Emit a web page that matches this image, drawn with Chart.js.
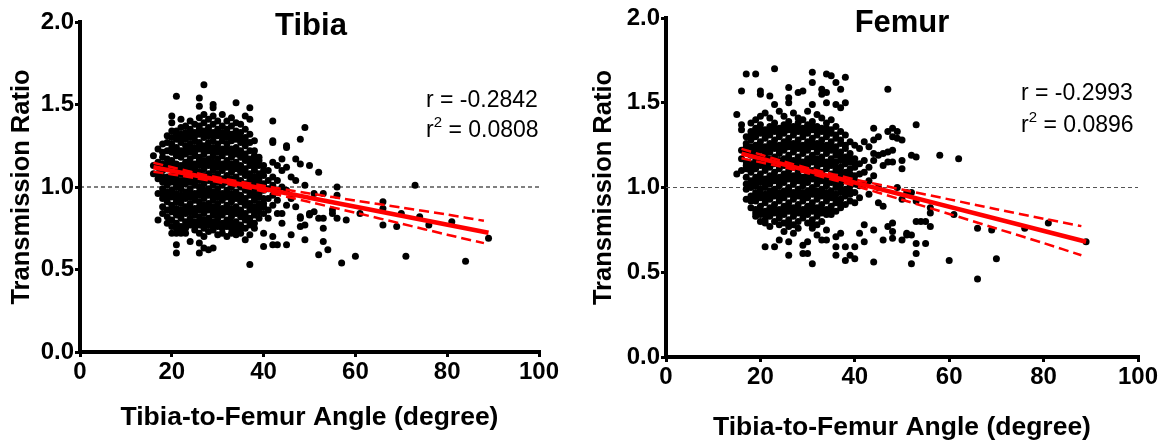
<!DOCTYPE html>
<html>
<head>
<meta charset="utf-8">
<script src="https://cdn.jsdelivr.net/npm/chart.js@4.4.0/dist/chart.umd.min.js"></script>
<style>
  html, body { margin: 0; padding: 0; background: #fff; }
  .panel { position: absolute; top: 0; width: 583px; height: 444px; }
</style>
</head>
<body>
<div class="panel" style="left:0"><canvas id="tibiaChart" width="583" height="444"></canvas></div>
<div class="panel" style="left:583px"><canvas id="femurChart" width="583" height="444"></canvas></div>
<script>
// --- data: [angle, [transmission ratios at that angle]] ---
const tibiaColumns = [
  [16, [1.19, 1.13, 1.08]],
  [17, [1.23, 1.15, 1.12, 1.08, 1.05, 0.96, 0.80]],
  [18, [1.26, 1.18, 1.14, 1.10, 1.03, 0.99, 0.93, 0.88, 0.84]],
  [19, [1.31, 1.22, 1.17, 1.11, 1.06, 1.01, 0.97, 0.91, 0.86, 0.78]],
  [20, [1.43, 1.39, 1.30, 1.26, 1.21, 1.16, 1.12, 1.07, 1.03, 0.98, 0.94, 0.89, 0.85, 0.80, 0.72]],
  [21, [1.55, 1.34, 1.29, 1.24, 1.19, 1.14, 1.09, 1.05, 1.00, 0.96, 0.91, 0.87, 0.83, 0.78, 0.72, 0.65, 0.60]],
  [22, [1.41, 1.36, 1.32, 1.27, 1.22, 1.18, 1.13, 1.08, 1.04, 0.99, 0.95, 0.90, 0.86, 0.81, 0.76, 0.72]],
  [23, [1.37, 1.33, 1.29, 1.25, 1.20, 1.15, 1.11, 1.06, 1.02, 0.97, 0.93, 0.88, 0.84, 0.79, 0.75, 0.72]],
  [24, [1.40, 1.35, 1.30, 1.26, 1.21, 1.17, 1.12, 1.08, 1.03, 0.99, 0.94, 0.90, 0.85, 0.81, 0.77, 0.67]],
  [25, [1.38, 1.33, 1.28, 1.24, 1.19, 1.14, 1.10, 1.05, 1.01, 0.96, 0.92, 0.87, 0.83, 0.79, 0.74]],
  [26, [1.54, 1.49, 1.42, 1.37, 1.32, 1.27, 1.23, 1.18, 1.13, 1.09, 1.04, 1.00, 0.95, 0.91, 0.86, 0.82, 0.77, 0.72, 0.66, 0.60]],
  [27, [1.62, 1.44, 1.39, 1.34, 1.30, 1.25, 1.20, 1.16, 1.11, 1.07, 1.02, 0.98, 0.93, 0.89, 0.84, 0.80, 0.75, 0.70, 0.63]],
  [28, [1.41, 1.36, 1.31, 1.27, 1.22, 1.17, 1.13, 1.08, 1.04, 0.99, 0.95, 0.90, 0.86, 0.81, 0.77, 0.73, 0.62]],
  [29, [1.50, 1.48, 1.43, 1.38, 1.33, 1.28, 1.24, 1.19, 1.15, 1.10, 1.06, 1.01, 0.97, 0.92, 0.88, 0.83, 0.79, 0.74, 0.63]],
  [30, [1.40, 1.35, 1.31, 1.26, 1.21, 1.17, 1.12, 1.08, 1.03, 0.99, 0.94, 0.90, 0.85, 0.81, 0.76, 0.71]],
  [31, [1.44, 1.37, 1.33, 1.28, 1.23, 1.19, 1.14, 1.10, 1.05, 1.01, 0.96, 0.92, 0.87, 0.83, 0.78, 0.72]],
  [32, [1.40, 1.35, 1.30, 1.26, 1.21, 1.16, 1.12, 1.07, 1.03, 0.98, 0.94, 0.89, 0.85, 0.80, 0.76, 0.70]],
  [33, [1.42, 1.37, 1.32, 1.28, 1.23, 1.18, 1.14, 1.09, 1.05, 1.00, 0.96, 0.91, 0.87, 0.82, 0.78, 0.72]],
  [34, [1.51, 1.39, 1.34, 1.29, 1.24, 1.20, 1.15, 1.11, 1.06, 1.02, 0.97, 0.93, 0.88, 0.84, 0.79, 0.74, 0.71]],
  [35, [1.38, 1.33, 1.27, 1.22, 1.18, 1.13, 1.09, 1.04, 1.00, 0.95, 0.91, 0.86, 0.82, 0.77, 0.72]],
  [36, [1.43, 1.35, 1.30, 1.25, 1.20, 1.16, 1.11, 1.07, 1.02, 0.98, 0.93, 0.89, 0.84, 0.80, 0.75, 0.68]],
  [37, [1.48, 1.41, 1.32, 1.22, 1.17, 1.13, 1.08, 1.04, 0.99, 0.95, 0.90, 0.86, 0.81, 0.77, 0.71, 0.53]],
  [38, [1.28, 1.22, 1.15, 1.10, 1.06, 1.01, 0.97, 0.92, 0.88, 0.83, 0.78, 0.75]],
  [39, [1.18, 1.13, 1.08, 1.03, 0.99, 0.94, 0.90, 0.85, 0.81]],
  [40, [1.13, 1.07, 1.02, 0.98, 0.93, 0.88, 0.84, 0.72, 0.64]],
  [41, [1.10, 1.04, 0.99, 0.93, 0.86, 0.81]],
  [42, [1.40, 1.28, 1.27, 1.15, 1.06, 1.01, 0.95, 0.89, 0.70, 0.65]],
  [43, [1.13, 1.04, 0.97, 0.92, 0.84, 0.65]],
  [44, [1.17, 1.10, 1.00, 0.84, 0.78]],
  [45, [1.25, 1.24, 1.12, 0.98, 0.89, 0.65]],
  [46, [1.06, 0.93, 0.71]],
  [47, [1.17, 1.04, 0.88]],
  [48, [1.29, 1.14, 0.82, 0.81, 0.76]],
  [49, [1.36, 1.01, 0.77, 0.68]],
  [50, [1.13, 0.84, 0.83]],
  [51, [0.96, 0.85]],
  [52, [1.09, 0.81, 0.59]],
  [53, [0.96, 0.81, 0.75, 0.67]],
  [54, [0.62]],
  [55, [0.86, 0.84]],
  [56, [1.00, 0.95, 0.81]],
  [57, [0.54]],
  [58, [0.80]],
  [60, [0.58]],
  [61, [0.84]],
  [66, [0.91, 0.87, 0.77]],
  [69, [0.76]],
  [70, [0.84]],
  [71, [0.58]],
  [73, [1.01]],
  [74, [0.82]],
  [76, [0.77]],
  [81, [0.79]],
  [84, [0.55]],
  [89, [0.69]]
];

// the dense middle of the tibia cloud, more points per angle
const tibiaCoreColumns = [
  [18, [1.21, 1.06, 0.96]],
  [19, [1.27, 1.14, 1.04, 0.94, 0.82]],
  [20, [1.34, 1.24, 1.14, 1.05, 0.96, 0.87, 0.76]],
  [21, [1.32, 1.22, 1.11, 1.02, 0.93, 0.85, 0.75]],
  [22, [1.30, 1.20, 1.10, 1.01, 0.92, 0.83, 0.74]],
  [23, [1.31, 1.22, 1.13, 1.04, 0.95, 0.86, 0.77]],
  [24, [1.33, 1.23, 1.14, 1.05, 0.96, 0.87, 0.79]],
  [25, [1.31, 1.21, 1.12, 1.03, 0.94, 0.85, 0.76]],
  [26, [1.35, 1.25, 1.16, 1.06, 0.97, 0.88, 0.79]],
  [27, [1.32, 1.22, 1.13, 1.04, 0.95, 0.86, 0.77]],
  [28, [1.34, 1.24, 1.15, 1.06, 0.97, 0.88, 0.79]],
  [29, [1.31, 1.21, 1.12, 1.03, 0.94, 0.85, 0.76]],
  [30, [1.33, 1.23, 1.14, 1.05, 0.96, 0.87, 0.78]],
  [31, [1.31, 1.21, 1.12, 1.03, 0.94, 0.85, 0.75]],
  [32, [1.33, 1.23, 1.14, 1.05, 0.96, 0.87, 0.78]],
  [33, [1.30, 1.20, 1.11, 1.02, 0.93, 0.84, 0.75]],
  [34, [1.32, 1.22, 1.13, 1.04, 0.95, 0.86, 0.77]],
  [35, [1.30, 1.20, 1.11, 1.02, 0.93, 0.84, 0.75]],
  [36, [1.28, 1.18, 1.09, 1.00, 0.91, 0.82]],
  [37, [1.27, 1.15, 1.06, 0.97, 0.88, 0.79]],
  [38, [1.19, 1.12, 1.03, 0.94, 0.85]],
  [39, [1.16, 1.05, 0.96, 0.87]],
  [40, [1.10, 1.00, 0.90]]
];

const femurColumns = [
  [15, [1.43, 1.08]],
  [16, [1.57, 1.37, 1.34, 1.22, 1.17, 1.10]],
  [17, [1.67, 1.30, 1.26, 1.21, 1.15, 1.11, 1.06, 0.99, 0.93]],
  [18, [1.38, 1.33, 1.28, 1.24, 1.19, 1.14, 1.09, 1.04, 1.00, 0.95, 0.88]],
  [19, [1.67, 1.40, 1.35, 1.30, 1.25, 1.20, 1.16, 1.11, 1.06, 1.01, 0.97, 0.92, 0.87, 0.83]],
  [20, [1.57, 1.55, 1.42, 1.37, 1.32, 1.27, 1.22, 1.18, 1.13, 1.08, 1.03, 0.99, 0.94, 0.89, 0.84, 0.80]],
  [21, [1.44, 1.34, 1.29, 1.24, 1.19, 1.14, 1.10, 1.05, 1.00, 0.96, 0.91, 0.86, 0.81, 0.79, 0.65]],
  [22, [1.54, 1.41, 1.36, 1.31, 1.26, 1.21, 1.17, 1.12, 1.07, 1.02, 0.98, 0.93, 0.88, 0.83, 0.77]],
  [23, [1.70, 1.49, 1.38, 1.33, 1.28, 1.23, 1.18, 1.14, 1.09, 1.04, 0.99, 0.95, 0.90, 0.85, 0.80, 0.65]],
  [24, [1.45, 1.35, 1.30, 1.25, 1.20, 1.16, 1.11, 1.06, 1.01, 0.97, 0.92, 0.87, 0.82, 0.78, 0.69]],
  [25, [1.42, 1.37, 1.32, 1.27, 1.22, 1.17, 1.13, 1.08, 1.03, 0.98, 0.94, 0.89, 0.84, 0.79, 0.74]],
  [26, [1.59, 1.53, 1.50, 1.39, 1.34, 1.29, 1.24, 1.19, 1.15, 1.10, 1.05, 1.00, 0.96, 0.91, 0.86, 0.81, 0.77, 0.68, 0.60]],
  [27, [1.44, 1.36, 1.31, 1.26, 1.21, 1.16, 1.12, 1.07, 1.02, 0.97, 0.93, 0.88, 0.83, 0.78, 0.73]],
  [28, [1.56, 1.41, 1.38, 1.33, 1.28, 1.23, 1.18, 1.14, 1.09, 1.04, 0.99, 0.95, 0.90, 0.85, 0.80, 0.76]],
  [29, [1.57, 1.40, 1.35, 1.30, 1.25, 1.20, 1.15, 1.11, 1.06, 1.01, 0.97, 0.92, 0.87, 0.82, 0.66, 0.61]],
  [30, [1.45, 1.37, 1.32, 1.27, 1.22, 1.17, 1.13, 1.08, 1.03, 0.98, 0.94, 0.89, 0.84, 0.79, 0.68, 0.61]],
  [31, [1.68, 1.62, 1.49, 1.39, 1.34, 1.29, 1.24, 1.19, 1.15, 1.10, 1.05, 1.00, 0.96, 0.91, 0.86, 0.81, 0.76, 0.55]],
  [32, [1.43, 1.36, 1.31, 1.26, 1.21, 1.17, 1.12, 1.07, 1.02, 0.98, 0.93, 0.88, 0.83, 0.78, 0.72]],
  [33, [1.58, 1.55, 1.41, 1.33, 1.28, 1.23, 1.18, 1.14, 1.09, 1.04, 0.99, 0.95, 0.90, 0.85, 0.80, 0.69]],
  [34, [1.67, 1.56, 1.50, 1.38, 1.35, 1.30, 1.25, 1.20, 1.15, 1.11, 1.06, 1.01, 0.97, 0.92, 0.87, 0.75, 0.69]],
  [35, [1.66, 1.40, 1.32, 1.27, 1.22, 1.17, 1.13, 1.08, 1.03, 0.98, 0.94, 0.89, 0.84]],
  [36, [1.62, 1.49, 1.36, 1.29, 1.24, 1.19, 1.15, 1.10, 1.05, 1.00, 0.96, 0.91, 0.86, 0.71, 0.65, 0.60]],
  [37, [1.58, 1.47, 1.33, 1.26, 1.21, 1.16, 1.12, 1.07, 1.02, 0.97, 0.93, 0.88, 0.73]],
  [38, [1.65, 1.50, 1.31, 1.23, 1.18, 1.14, 1.09, 1.04, 0.99, 0.95, 0.90, 0.65, 0.57]],
  [39, [1.27, 1.20, 1.15, 1.11, 1.06, 1.01, 0.96, 0.92, 0.60]],
  [40, [1.25, 1.17, 1.12, 1.07, 1.02, 0.97, 0.91, 0.65, 0.58]],
  [41, [1.23, 1.14, 1.08, 1.01, 0.94, 0.73]],
  [42, [1.27, 1.16, 1.09, 1.02, 0.78, 0.68]],
  [43, [1.24, 1.12, 1.04, 0.96]],
  [44, [1.35, 1.28, 1.20, 1.16, 1.07, 0.75, 0.56]],
  [45, [1.30, 1.19, 1.00, 0.91]],
  [46, [1.20, 1.13, 0.89, 0.69]],
  [47, [1.58, 1.33, 1.21, 1.15, 0.77]],
  [48, [1.35, 1.30, 1.22, 1.15, 0.79, 0.74, 0.70]],
  [49, [1.33, 1.29, 1.00]],
  [50, [1.28, 1.16, 1.11, 0.93, 0.69]],
  [51, [0.97, 0.73, 0.72]],
  [52, [1.19, 0.97, 0.72, 0.55]],
  [53, [1.37, 1.18, 0.92, 0.80, 0.67, 0.61]],
  [54, [0.80]],
  [55, [0.80, 0.67]],
  [56, [0.88, 0.85, 0.77]],
  [58, [1.19]],
  [60, [0.57]],
  [61, [0.84]],
  [62, [1.17]],
  [66, [0.76, 0.46]],
  [69, [0.75]],
  [70, [0.58]],
  [76, [0.76]],
  [81, [0.79]],
  [89, [0.68]]
];

// the dense middle of the femur cloud
const femurCoreColumns = [
  [17, [1.24, 1.13, 1.02]],
  [18, [1.31, 1.21, 1.11, 1.02, 0.92]],
  [19, [1.32, 1.22, 1.13, 1.04, 0.94, 0.85]],
  [20, [1.34, 1.24, 1.15, 1.05, 0.96, 0.86]],
  [21, [1.31, 1.21, 1.12, 1.02, 0.93, 0.84]],
  [22, [1.33, 1.23, 1.14, 1.04, 0.95, 0.85]],
  [23, [1.35, 1.25, 1.16, 1.06, 0.97, 0.87]],
  [24, [1.32, 1.22, 1.13, 1.03, 0.94, 0.84]],
  [25, [1.34, 1.24, 1.15, 1.05, 0.96, 0.86]],
  [26, [1.36, 1.26, 1.17, 1.07, 0.98, 0.88, 0.79]],
  [27, [1.33, 1.23, 1.14, 1.04, 0.95, 0.85]],
  [28, [1.35, 1.25, 1.16, 1.06, 0.97, 0.87]],
  [29, [1.32, 1.22, 1.13, 1.03, 0.94, 0.84]],
  [30, [1.34, 1.24, 1.15, 1.05, 0.96, 0.86]],
  [31, [1.36, 1.26, 1.17, 1.07, 0.98, 0.88, 0.78]],
  [32, [1.33, 1.23, 1.14, 1.04, 0.95, 0.85]],
  [33, [1.35, 1.25, 1.16, 1.06, 0.97, 0.87]],
  [34, [1.32, 1.22, 1.13, 1.03, 0.94, 0.84]],
  [35, [1.34, 1.24, 1.15, 1.05, 0.96, 0.86]],
  [36, [1.31, 1.21, 1.12, 1.02, 0.93]],
  [37, [1.28, 1.18, 1.09, 0.99, 0.90]],
  [38, [1.25, 1.16, 1.06, 0.97]],
  [39, [1.17, 1.08, 0.98]],
  [40, [1.14, 1.04]]
];

// regression line end points and 95% band
const tibiaFitX = [16, 89];
const tibiaFitY = [1.12, 0.723];
const tibiaBandX = [16, 25, 30, 40, 50, 60, 70, 80, 88];
const tibiaBandUpper = [1.147, 1.087, 1.058, 1.007, 0.961, 0.918, 0.876, 0.833, 0.795];
const tibiaBandLower = [1.093, 1.055, 1.030, 0.973, 0.909, 0.844, 0.778, 0.711, 0.660];

const femurFitX = [16, 89];
const femurFitY = [1.20, 0.68];
const femurBandX = [16, 25, 31, 40, 50, 60, 70, 80, 88];
const femurBandUpper = [1.228, 1.153, 1.108, 1.048, 0.988, 0.930, 0.872, 0.816, 0.772];
const femurBandLower = [1.172, 1.119, 1.078, 1.010, 0.928, 0.844, 0.758, 0.672, 0.600];

const refLineX = [0, 100];
const refLineY = [1.0, 1.0];

const xTicks = [0, 20, 40, 60, 80, 100];
const yTicks = [0, 0.5, 1.0, 1.5, 2.0];

const FONT = '"Liberation Sans", Arial, Helvetica, sans-serif';

function toPoints(columns) {
  const pts = [];
  columns.forEach(([x, ys]) => ys.forEach(y => pts.push({ x: x, y: y })));
  return pts;
}
function zip(xs, ys) {
  return xs.map((x, i) => ({ x: x, y: ys[i] }));
}

// titles + r / r² text
const labelPlugin = {
  id: 'labels',
  afterDraw(chart, args, opts) {
    const ctx = chart.ctx;
    ctx.save();
    ctx.fillStyle = '#000';
    ctx.textBaseline = 'alphabetic';
    ctx.textAlign = 'center';
    ctx.font = 'bold 31px ' + FONT;
    ctx.fillText(opts.title, opts.titleX, opts.titleY);

    ctx.textAlign = 'left';
    ctx.font = '23px ' + FONT;
    ctx.fillText('r = ' + opts.r, opts.statX, opts.statY);
    let x = opts.statX;
    const y2 = opts.statY + opts.lineGap;
    ctx.fillText('r', x, y2);
    x += ctx.measureText('r').width;
    ctx.font = '15px ' + FONT;
    ctx.fillText('2', x, y2 - 10);
    x += ctx.measureText('2').width;
    ctx.font = '23px ' + FONT;
    ctx.fillText(' = ' + opts.r2, x, y2);
    ctx.restore();
  }
};

function makeChart(id, c) {
  const pts = toPoints(c.columns).concat(toPoints(c.core));
  return new Chart(document.getElementById(id), {
    type: 'scatter',
    data: {
      datasets: [
        { data: pts, backgroundColor: '#000', borderColor: '#000', pointRadius: 3.5, borderWidth: 0, order: 3 },
        { data: zip(refLineX, refLineY), showLine: true, borderColor: c.refColor, borderWidth: 1, borderDash: [4, 3], pointRadius: 0, order: 4 },
        { data: zip(c.bandX, c.bandUpper), showLine: true, borderColor: '#ff0000', borderWidth: 2.5, borderDash: [10, 5], pointRadius: 0, tension: 0.3, order: 1 },
        { data: zip(c.bandX, c.bandLower), showLine: true, borderColor: '#ff0000', borderWidth: 2.5, borderDash: [10, 5], pointRadius: 0, tension: 0.3, order: 1 },
        { data: zip(c.fitX, c.fitY), showLine: true, borderColor: '#ff0000', borderWidth: 4.5, pointRadius: 0, order: 0 }
      ]
    },
    options: {
      responsive: false,
      animation: false,
      layout: { padding: { top: c.top, right: c.padRight, left: 0, bottom: 0 } },
      plugins: {
        legend: { display: false },
        tooltip: { enabled: false },
        labels: c.labels
      },
      scales: {
        x: {
          type: 'linear', min: 0, max: 100,
          afterFit: s => { s.height = c.xHeight; },
          afterBuildTicks: s => { s.ticks = xTicks.map(v => ({ value: v })); },
          border: { display: true, color: '#000', width: 4 },
          grid: { display: true, drawOnChartArea: false, drawTicks: true, tickLength: 5, color: '#000', lineWidth: 3 },
          ticks: { autoSkip: false, maxRotation: 0, padding: 1, color: '#000', font: { family: FONT, size: 24, weight: 'bold' } },
          title: { display: true, text: 'Tibia-to-Femur Angle (degree)', color: '#000', padding: { top: 0, bottom: c.xTitlePad }, font: { family: FONT, size: 26.5, weight: 'bold' } }
        },
        y: {
          type: 'linear', min: 0, max: 2,
          afterFit: s => { s.width = c.yWidth; },
          afterBuildTicks: s => { s.ticks = yTicks.map(v => ({ value: v })); },
          border: { display: true, color: '#000', width: 4 },
          grid: { display: true, drawOnChartArea: false, drawTicks: true, tickLength: 5, color: '#000', lineWidth: 3 },
          ticks: { padding: 1, color: '#000', font: { family: FONT, size: 24, weight: 'bold' }, callback: v => Number(v).toFixed(1) },
          title: { display: true, text: 'Transmission Ratio', color: '#000', padding: { top: c.yTitlePad, bottom: 0 }, font: { family: FONT, size: 25.5, weight: 'bold' } }
        }
      }
    },
    plugins: [labelPlugin]
  });
}

makeChart('tibiaChart', {
  columns: tibiaColumns, core: tibiaCoreColumns,
  fitX: tibiaFitX, fitY: tibiaFitY,
  bandX: tibiaBandX, bandUpper: tibiaBandUpper, bandLower: tibiaBandLower,
  refColor: '#000',
  top: 22, padRight: 44, xHeight: 92, yWidth: 80, xTitlePad: 10, yTitlePad: 7,
  labels: { title: 'Tibia', titleX: 311, titleY: 35, r: '-0.2842', r2: '0.0808', statX: 426, statY: 107, lineGap: 30 }
});

makeChart('femurChart', {
  columns: femurColumns, core: femurCoreColumns,
  fitX: femurFitX, fitY: femurFitY,
  bandX: femurBandX, bandUpper: femurBandUpper, bandLower: femurBandLower,
  refColor: '#555',
  top: 18, padRight: 28, xHeight: 87, yWidth: 83, xTitlePad: 0, yTitlePad: 6,
  labels: { title: 'Femur', titleX: 319, titleY: 32, r: '-0.2993', r2: '0.0896', statX: 438, statY: 100, lineGap: 32 }
});
</script>
</body>
</html>
